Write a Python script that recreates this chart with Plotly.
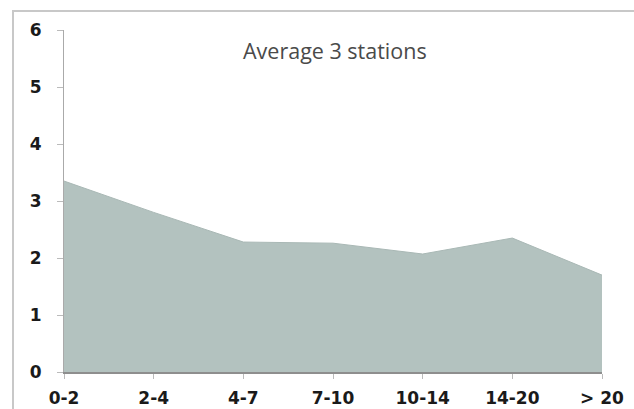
import plotly.graph_objects as go

categories = ["0-2", "2-4", "4-7", "7-10", "10-14", "14-20", "> 20"]
values = [3.35, 2.8, 2.28, 2.26, 2.07, 2.35, 1.7]
y_ticks = [0, 1, 2, 3, 4, 5, 6]
title_text = "Average 3 stations"

fig = go.Figure()
fig.add_trace(go.Scatter(
    x=categories, y=values, mode="lines", fill="tozeroy",
    fillcolor="#B3C2BF", line=dict(color="#A9B8B5", width=1),
    hoverinfo="skip", showlegend=False,
))

tick_font = dict(size=17, color="#1a1a1a", family="DejaVu Sans, sans-serif", weight="bold")

fig.update_layout(
    width=634, height=409,
    margin=dict(l=64, r=32, t=30, b=37),
    paper_bgcolor="white", plot_bgcolor="white",
    font=dict(family="DejaVu Sans, sans-serif", color="#222"),
    annotations=[dict(
        text=title_text, x=(335 - 64) / 538, y=(409 - 37 - 50) / 342,
        xref="paper", yref="paper",
        showarrow=False, xanchor="center", yanchor="middle",
        font=dict(size=21.5, color="#4a4a4a", family="Open Sans, sans-serif"),
    )],
    shapes=[dict(
        type="rect", xref="paper", yref="paper",
        x0=-51 / 538, x1=1.2, y0=-0.3, y1=1 + 19 / 342,
        line=dict(color="#C8C8C8", width=2), fillcolor="rgba(0,0,0,0)",
        layer="above",
    )],
)

fig.update_xaxes(
    type="category", range=[0, 6], showgrid=False, zeroline=False,
    showline=True, linecolor="#8E8E8E", linewidth=2,
    ticks="outside", ticklen=5, tickcolor="#BBBBBB",
    tickfont=tick_font, ticklabelstandoff=5, automargin=False, fixedrange=True,
)
fig.update_yaxes(
    range=[0, 6], tickvals=y_ticks, showgrid=False, zeroline=False,
    showline=True, linecolor="#AAAAAA", linewidth=1,
    ticks="outside", ticklen=6, tickcolor="#BBBBBB",
    tickfont=tick_font, ticklabelstandoff=12, automargin=False, fixedrange=True,
)

fig.write_html(
    "out.html",
    config={"displayModeBar": False},
    post_script="document.body.style.margin='0';document.body.style.overflow='hidden';",
)
